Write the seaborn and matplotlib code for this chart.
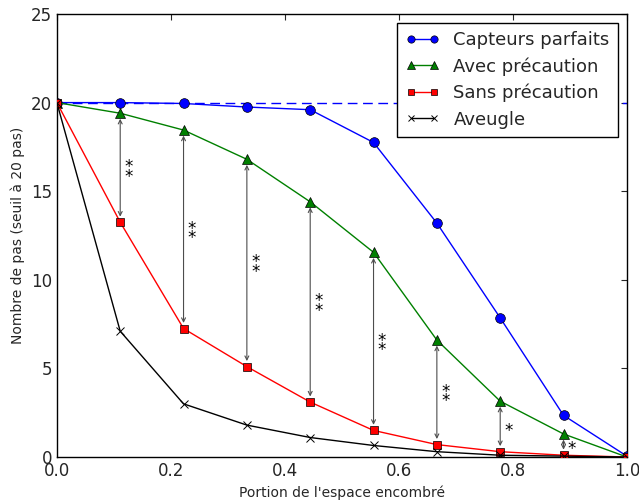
import numpy as np
import pandas as pd
import matplotlib
matplotlib.use("Agg")
import matplotlib.pyplot as plt
import seaborn as sns

# --- DATA ---
portion = [0.0, 1/9, 2/9, 3/9, 4/9, 5/9, 6/9, 7/9, 8/9, 1.0]
capteurs_parfaits = [20.0, 20.0, 19.95, 19.75, 19.6, 17.75, 13.2, 7.85, 2.35, 0.05]
avec_precaution = [20.0, 19.4, 18.45, 16.8, 14.4, 11.55, 6.6, 3.15, 1.3, 0.0]
sans_precaution = [20.0, 13.25, 7.25, 5.1, 3.1, 1.5, 0.7, 0.3, 0.1, 0.0]
aveugle = [20.0, 7.1, 3.0, 1.8, 1.1, 0.65, 0.3, 0.1, 0.05, 0.0]
seuil = 20
significance = ["**", "**", "**", "**", "**", "**", "*", "*"]  # between avec / sans, x = 1/9 .. 8/9

x_ticks = [0.0, 0.2, 0.4, 0.6, 0.8, 1.0]
y_ticks = [0, 5, 10, 15, 20, 25]

df = pd.DataFrame({
    "portion": portion,
    "Capteurs parfaits": capteurs_parfaits,
    "Avec précaution": avec_precaution,
    "Sans précaution": sans_precaution,
    "Aveugle": aveugle,
})

sns.set_style("white")
plt.rcParams["font.family"] = ["DejaVu Sans"]

fig, ax = plt.subplots(figsize=(6.39, 5.0), dpi=100)
fig.subplots_adjust(left=0.089, right=0.981, bottom=0.086, top=0.972)

# threshold line
ax.plot([0, 1], [seuil, seuil], color="blue", linestyle=(0, (7, 4)), linewidth=1, zorder=1)

styles = [
    ("Capteurs parfaits", "blue", "o", 7),
    ("Avec précaution", "green", "^", 7),
    ("Sans précaution", "red", "s", 5.5),
    ("Aveugle", "black", "x", 6),
]
for name, col, mk, ms in styles:
    sns.lineplot(data=df, x="portion", y=name, ax=ax, color=col, marker=mk,
                 markersize=ms, linewidth=1, label=name,
                 markeredgecolor="black" if mk != "x" else col,
                 markeredgewidth=0.5 if mk != "x" else 0.7, zorder=3)

# significance arrows between "Avec" and "Sans"
for i, star in enumerate(significance, start=1):
    xv = portion[i]
    top = avec_precaution[i]
    bot = sans_precaution[i]
    ax.annotate("", xy=(xv, bot), xytext=(xv, top),
                arrowprops=dict(arrowstyle="<->", color="0.3", lw=0.8,
                                shrinkA=4, shrinkB=4, mutation_scale=7),
                zorder=2)
    ax.annotate("\n".join(star), xy=(xv, (top + bot) / 2), xytext=(6, -3),
                textcoords="offset points", fontsize=12, linespacing=0.42,
                ha="center", va="center", color="black")

ax.set_xlim(0, 1)
ax.set_ylim(0, 25)
ax.set_xticks(x_ticks)
ax.set_yticks(y_ticks)
ax.set_xticklabels([f"{t:.1f}" for t in x_ticks])
ax.tick_params(direction="in", top=True, right=True, labelsize=12, length=4, width=0.8)
ax.set_xlabel("Portion de l'espace encombré", fontsize=10)
ax.set_ylabel("Nombre de pas (seuil à 20 pas)", fontsize=10)
for sp in ax.spines.values():
    sp.set_color("black")
    sp.set_linewidth(1)

leg = ax.legend(loc="upper right", fontsize=13, numpoints=2, fancybox=False,
                framealpha=1, edgecolor="black", borderaxespad=0.5, borderpad=0.45,
                labelspacing=0.45, handlelength=1.9, handletextpad=0.75,
                markerscale=0.75)
leg.get_frame().set_linewidth(1)

plt.savefig("out.png", dpi=100)
